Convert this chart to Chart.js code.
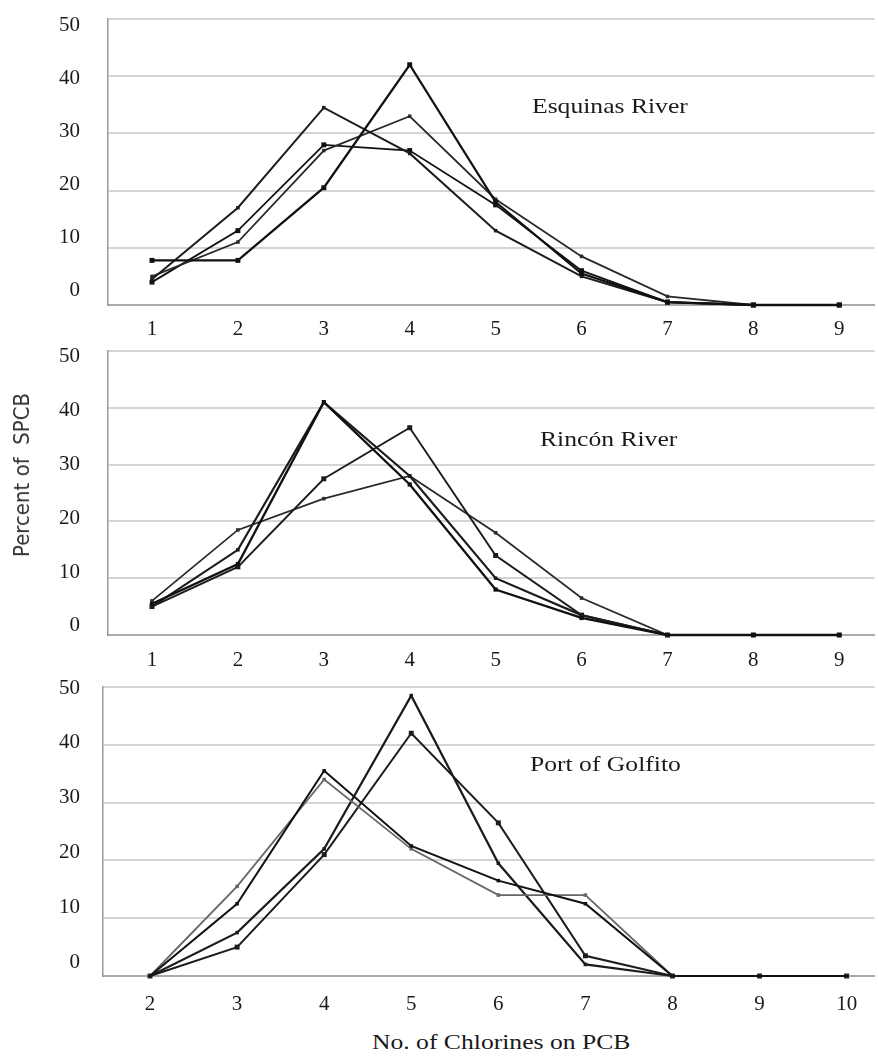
<!DOCTYPE html>
<html>
<head>
<meta charset="utf-8">
<script src="https://cdn.jsdelivr.net/npm/chart.js@4.4.1/dist/chart.umd.min.js"></script>
<style>
  html, body { margin: 0; padding: 0; background: #fff; }
  #wrap { position: relative; width: 878px; height: 1057px; overflow: hidden;
          font-family: 'Liberation Serif', 'Times New Roman', serif; color: #1a1a1a; }
  canvas { position: absolute; left: 0; }
  .lbl { position: absolute; font-size: 21px; line-height: 21px; white-space: nowrap;
         transform-origin: 0 50%; transform: scaleX(1.22); }
  #yTitle { position: absolute; left: 22px; top: 475px; white-space: nowrap;
            font-family: 'Liberation Sans Narrow', 'DejaVu Sans Condensed', sans-serif;
            font-size: 22px; line-height: 22px; color: #333;
            transform: translate(-50%, -50%) rotate(-90deg); }
</style>
</head>
<body>
<div id="wrap">
  <canvas id="p1" width="878" height="345" style="top:0px"></canvas>
  <canvas id="p2" width="878" height="345" style="top:330px"></canvas>
  <canvas id="p3" width="878" height="352" style="top:670px"></canvas>
  <div class="lbl" style="left:532px; top:96px">Esquinas River</div>
  <div class="lbl" style="left:540px; top:429px">Rincón River</div>
  <div class="lbl" style="left:530px; top:754px">Port of Golfito</div>
  <div class="lbl" style="left:372px; top:1032px">No. of Chlorines on PCB</div>
  <div id="yTitle">Percent of&nbsp; SPCB</div>
</div>
<script>
// x categories (number of chlorines)
const chlorinesUpper = [1, 2, 3, 4, 5, 6, 7, 8, 9];
const chlorinesLower = [2, 3, 4, 5, 6, 7, 8, 9, 10];
const yTicks = [0, 10, 20, 30, 40, 50];

// Esquinas River (percent of total PCB)
const esquinasA = [7.8, 7.8, 20.5, 42, 18, 5.5, 0.5, 0, 0];
const esquinasB = [4.5, 17, 34.5, 26.5, 13, 5, 0.5, 0, 0];
const esquinasC = [5, 11, 27, 33, 18.5, 8.5, 1.5, 0, 0];
const esquinasD = [4, 13, 28, 27, 17.5, 6, 0.5, 0, 0];

// Rincón River
const rinconA = [5.5, 12.5, 41, 26.5, 8, 3, 0, 0, 0];
const rinconB = [5, 15, 41, 28, 10, 3.5, 0, 0, 0];
const rinconC = [5, 12, 27.5, 36.5, 14, 3.5, 0, 0, 0];
const rinconD = [6, 18.5, 24, 28, 18, 6.5, 0, 0, 0];

// Port of Golfito
const golfitoA = [0, 12.5, 35.5, 22.5, 16.5, 12.5, 0, 0, 0];
const golfitoB = [0, 15.5, 34, 22, 14, 14, 0, 0, 0];
const golfitoC = [0, 7.5, 22, 48.5, 19.5, 2, 0, 0, 0];
const golfitoD = [0, 5, 21, 42, 26.5, 3.5, 0, 0, 0];

const tickFont = { family: "'Liberation Serif', 'Times New Roman', serif", size: 21 };

function line(values, color, width, point) {
  return { values, color, width, point };
}

// drop the extra padding chart.js reserves for half a tick label
function noPad(axis) {
  axis.paddingTop = 0;
  axis.paddingBottom = 0;
}

// one stacked panel
function makePanel(id, xVals, series, opt) {
  const ctx = document.getElementById(id).getContext('2d');
  return new Chart(ctx, {
    type: 'line',
    data: {
      datasets: series.map(s => ({
        data: xVals.map((x, i) => ({ x: x, y: s.values[i] })),
        borderColor: s.color,
        backgroundColor: s.color,
        borderWidth: s.width,
        pointStyle: 'rect',
        pointRadius: s.point,
        pointBorderWidth: 0,
        pointHoverRadius: s.point,
        tension: 0,
        clip: false
      }))
    },
    options: {
      responsive: false,
      animation: false,
      devicePixelRatio: 1,
      layout: { padding: { top: opt.top, left: 0, right: 0, bottom: 0 } },
      plugins: { legend: { display: false }, tooltip: { enabled: false } },
      scales: {
        x: {
          type: 'linear',
          min: opt.xMin,
          max: opt.xMax,
          afterBuildTicks: axis => { axis.ticks = xVals.map(v => ({ value: v })); },
          afterFit: axis => { axis.height = opt.xAxisH; },
          grid: { color: 'transparent', drawTicks: false },
          border: { color: '#aaa', width: 2 },
          ticks: { font: tickFont, color: '#1a1a1a', padding: opt.xPad, maxRotation: 0, autoSkip: false }
        },
        // value axis: gridlines and the left border
        y: {
          position: 'left',
          weight: 0,
          min: 0,
          max: 50,
          afterBuildTicks: axis => { axis.ticks = yTicks.map(v => ({ value: v })); },
          afterFit: axis => { axis.width = 0; noPad(axis); },
          grid: { color: '#d4d4d4', lineWidth: 2, drawTicks: false },
          border: { color: '#999', width: 1.5 },
          ticks: { display: false }
        },
        // tick labels, spaced a little tighter than the gridlines as in the print
        yLab: {
          position: 'left',
          weight: 1,
          min: opt.labMin,
          max: opt.labMax,
          afterBuildTicks: axis => { axis.ticks = yTicks.map(v => ({ value: v })); },
          afterFit: axis => { axis.width = opt.axisX; noPad(axis); },
          grid: { display: false, drawTicks: false },
          border: { display: false },
          ticks: { font: tickFont, color: '#1a1a1a', padding: opt.yPad }
        }
      }
    }
  });
}

makePanel('p1', chlorinesUpper, [
  line(esquinasA, '#111', 2.3, 3.5),
  line(esquinasB, '#1c1c1c', 2, 2.5),
  line(esquinasC, '#2a2a2a', 1.8, 2.5),
  line(esquinasD, '#111', 1.8, 3.5)
], { top: 19, xAxisH: 40, xMin: 0.488, xMax: 9.41, axisX: 108, yPad: 28, xPad: 12,
     labMin: -2.83, labMax: 51.13 });

makePanel('p2', chlorinesUpper, [
  line(rinconA, '#111', 2.3, 3),
  line(rinconB, '#1c1c1c', 2.2, 2.5),
  line(rinconC, '#1c1c1c', 1.9, 3.5),
  line(rinconD, '#2a2a2a', 1.8, 2.5)
], { top: 21, xAxisH: 40, xMin: 0.488, xMax: 9.41, axisX: 108, yPad: 28, xPad: 13,
     labMin: -1.67, labMax: 50.93 });

makePanel('p3', chlorinesLower, [
  line(golfitoA, '#111', 2, 2.5),
  line(golfitoB, '#666', 1.8, 2.5),
  line(golfitoC, '#1c1c1c', 2.2, 2.5),
  line(golfitoD, '#1c1c1c', 2, 3.5)
], { top: 17, xAxisH: 46, xMin: 1.46, xMax: 10.32, axisX: 103, yPad: 23, xPad: 16,
     labMin: -2.55, labMax: 50.18 });
</script>
</body>
</html>
